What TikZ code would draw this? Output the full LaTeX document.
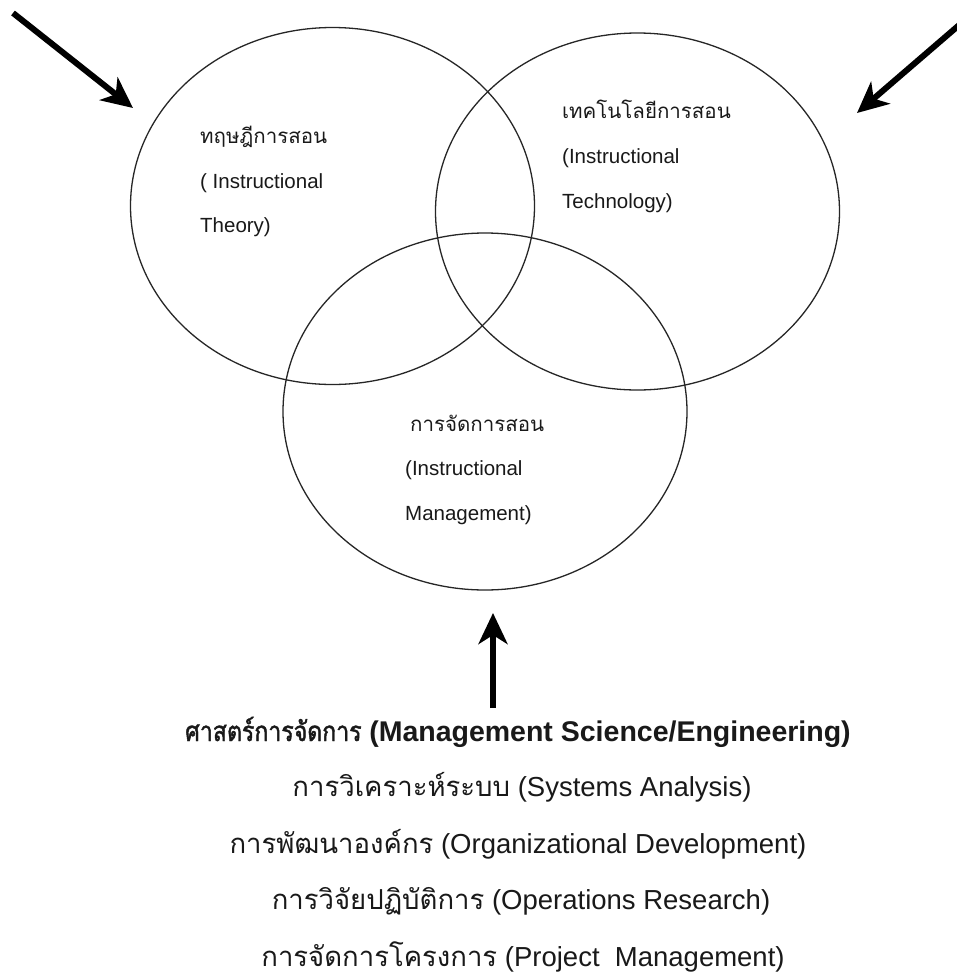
\documentclass[tikz,border=0pt]{standalone}
\usepackage{fontspec}
\setmainfont{Liberation Sans}
\newfontfamily\thaifont[Script=Thai]{Loma}
\newfontfamily\thainarrow[Script=Thai,FakeStretch=0.84,FakeBold=1.6]{Loma}
\usetikzlibrary{shapes.geometric,arrows.meta}
\tikzset{
  venn/.style={ellipse,draw=black!85,line width=1.3pt,minimum width=404pt,minimum height=357pt,inner sep=0pt},
  ctext/.style={anchor=base west,inner sep=0pt,font=\fontsize{20.5}{24}\selectfont,text=black!90},
  btext/.style={anchor=base,inner sep=0pt,font=\fontsize{27.5}{32}\selectfont,text=black!90},
  bigarrow/.style={line width=6pt,-{Stealth[length=31pt,width=29pt,inset=9pt]}}
}
\begin{document}
\begin{tikzpicture}[x=1pt,y=-1pt]
\useasboundingbox (0,0) rectangle (957,980);
\fill[white] (0,0) rectangle (957,980);
% circles
\node[venn] (theory) at (332.5,206) {};
\node[venn] (tech) at (637.5,211.5) {};
\node[venn] (mgmt) at (485,411.5) {};
% circle texts
\node[ctext] (t1) at (200,143) {\thaifont ทฤษฎีการสอน};
\node[ctext] (t2) at (200,188) {( Instructional};
\node[ctext] (t3) at (200,232) {Theory)};
\node[ctext] (r1) at (562,118) {\thaifont เทคโนโลยีการสอน};
\node[ctext] (r2) at (562,163) {(Instructional};
\node[ctext] (r3) at (562,208) {Technology)};
\node[ctext] (m1) at (410,431) {\thaifont การจัดการสอน};
\node[ctext] (m2) at (405,475) {(Instructional};
\node[ctext] (m3) at (405,520) {Management)};
% arrows
\coordinate (a1s) at (13,13);
\coordinate (a1e) at (133,108);
\coordinate (a2s) at (965,20);
\coordinate (a2e) at (857,113);
\coordinate (a3s) at (493,708);
\coordinate (a3e) at (493,613);
\draw[bigarrow] (a1s) -- (a1e);
\draw[bigarrow] (a2s) -- (a2e);
\draw[bigarrow] (a3s) -- (a3e);
% bottom text
\node[btext] (b1) at (518,741) {{\thainarrow ศาสตร์การจัดการ} {\fontsize{28.5}{32}\selectfont\bfseries (Management Science/Engineering)}};
\node[btext] (b2) at (522,796) {{\thaifont การวิเคราะห์ระบบ} (Systems Analysis)};
\node[btext] (b3) at (518,853) {{\thaifont การพัฒนาองค์กร} (Organizational Development)};
\node[btext] (b4) at (521,909) {{\thaifont การวิจัยปฏิบัติการ} (Operations Research)};
\node[btext] (b5) at (523,966) {{\thaifont การจัดการโครงการ} (Project~ Management)};
\end{tikzpicture}
\end{document}
